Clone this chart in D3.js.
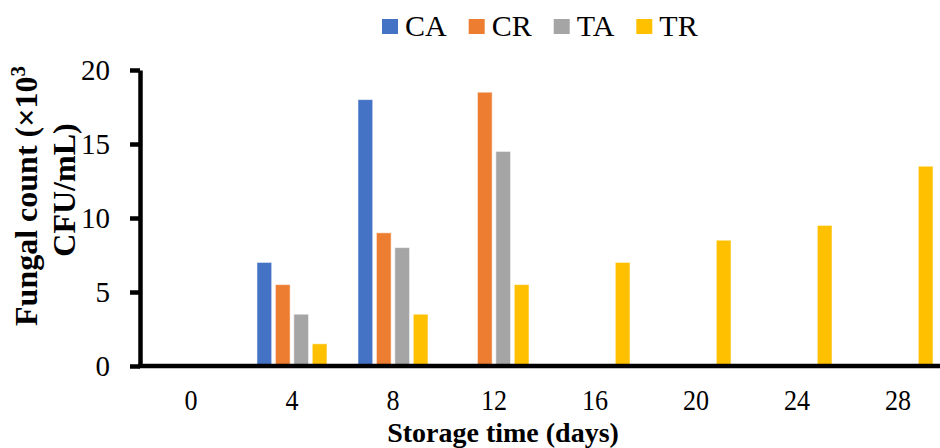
<!DOCTYPE html>
<html>
<head>
<meta charset="utf-8">
<script src="https://cdn.jsdelivr.net/npm/d3@7"></script>
<style>
  html, body { margin: 0; padding: 0; background: #ffffff; }
  svg { display: block; font-family: "Liberation Serif", "Times New Roman", serif; }
</style>
</head>
<body>
<svg id="chart" width="940" height="448"></svg>
<script>
// Storage days on the category axis
const days = ["0", "4", "8", "12", "16", "20", "24", "28"];
// Treatment groups
const seriesNames = ["CA", "CR", "TA", "TR"];
// Fungal count (×10³ CFU/mL) per storage day
const caValues = [0, 7, 18, 0, 0, 0, 0, 0];
const crValues = [0, 5.5, 9, 18.5, 0, 0, 0, 0];
const taValues = [0, 3.5, 8, 14.5, 0, 0, 0, 0];
const trValues = [0, 1.5, 3.5, 5.5, 7, 8.5, 9.5, 13.5];
const yTicks = [0, 5, 10, 15, 20];
const seriesColors = ["#4472C4", "#ED7D31", "#A5A5A5", "#FFC000"];

const seriesValues = [caValues, crValues, taValues, trValues];

const svg = d3.select("#chart");
const plotLeft = 140, plotRight = 949, plotTop = 70, plotBottom = 366;

const x0 = d3.scaleBand()
  .domain(days)
  .range([plotLeft, plotRight])
  .paddingInner(0.307)
  .paddingOuter(0.158);

const x1 = d3.scaleBand()
  .domain(seriesNames)
  .range([0, x0.bandwidth()])
  .paddingInner(0.2)
  .paddingOuter(0);

const y = d3.scaleLinear().domain([0, 20]).range([plotBottom, plotTop]);

const color = d3.scaleOrdinal().domain(seriesNames).range(seriesColors);

// Bars, one group per storage day
const rows = days.map((d, i) => ({
  day: d,
  values: seriesNames.map((s, k) => ({ series: s, value: seriesValues[k][i] }))
}));

const groups = svg.append("g").selectAll("g")
  .data(rows)
  .join("g")
  .attr("transform", d => `translate(${x0(d.day)},0)`);

groups.selectAll("rect")
  .data(d => d.values.filter(v => v.value > 0))
  .join("rect")
  .attr("x", d => x1(d.series))
  .attr("width", x1.bandwidth())
  .attr("y", d => y(d.value))
  .attr("height", d => y(0) - y(d.value))
  .attr("fill", d => color(d.series))
  .attr("stroke", "#ffffff")
  .attr("stroke-opacity", 0.55)
  .attr("stroke-width", 1);

// Y axis
const yAxis = svg.append("g")
  .attr("transform", `translate(${plotLeft},0)`)
  .call(d3.axisLeft(y).tickValues(yTicks).tickSize(10).tickSizeOuter(0).tickPadding(20));
yAxis.select(".domain").attr("stroke", "#000").attr("stroke-width", 4.5);
yAxis.selectAll(".tick line").attr("stroke", "#000").attr("stroke-width", 4.5);
yAxis.selectAll(".tick text")
  .attr("font-family", "Liberation Serif, Times New Roman, serif")
  .attr("font-size", 29)
  .attr("fill", "#000");

// X axis labels
const xAxis = svg.append("g")
  .attr("transform", `translate(0,${plotBottom})`)
  .call(d3.axisBottom(x0).tickSize(0).tickSizeOuter(0));
xAxis.select(".domain").remove();
xAxis.selectAll(".tick text")
  .attr("font-family", "Liberation Serif, Times New Roman, serif")
  .attr("font-size", 29)
  .attr("fill", "#000")
  .attr("y", 44)
  .attr("dy", 0)
  .attr("transform", "scale(0.9,1)");

// X axis baseline
svg.append("line")
  .attr("x1", plotLeft - 2).attr("x2", 940)
  .attr("y1", y(0)).attr("y2", y(0))
  .attr("stroke", "#000").attr("stroke-width", 4.5);

// Axis titles
svg.append("text")
  .attr("x", 503).attr("y", 441.5)
  .attr("text-anchor", "middle")
  .attr("font-size", 28).attr("font-weight", "bold")
  .text("Storage time (days)");

const yTitle1 = svg.append("text")
  .attr("transform", "translate(37,196) rotate(-90)")
  .attr("text-anchor", "middle")
  .attr("font-size", 32).attr("font-weight", "bold");
yTitle1.append("tspan").text("Fungal count (×10");
yTitle1.append("tspan").attr("font-size", 21).attr("dy", -12).text("3");

svg.append("text")
  .attr("transform", "translate(75,190) rotate(-90)")
  .attr("text-anchor", "middle")
  .attr("font-size", 32).attr("font-weight", "bold")
  .text("CFU/mL)");

// Legend
const legend = svg.append("g");
let lx = 382;
seriesNames.forEach(name => {
  const item = legend.append("g").attr("transform", `translate(${lx},0)`);
  item.append("rect")
    .attr("x", 0).attr("y", 19).attr("width", 16).attr("height", 15)
    .attr("fill", color(name));
  const t = item.append("text")
    .attr("x", 23).attr("y", 36)
    .attr("font-size", 30)
    .attr("fill", "#000")
    .text(name);
  lx += 23 + t.node().getComputedTextLength() + 22;
});
</script>
</body>
</html>
